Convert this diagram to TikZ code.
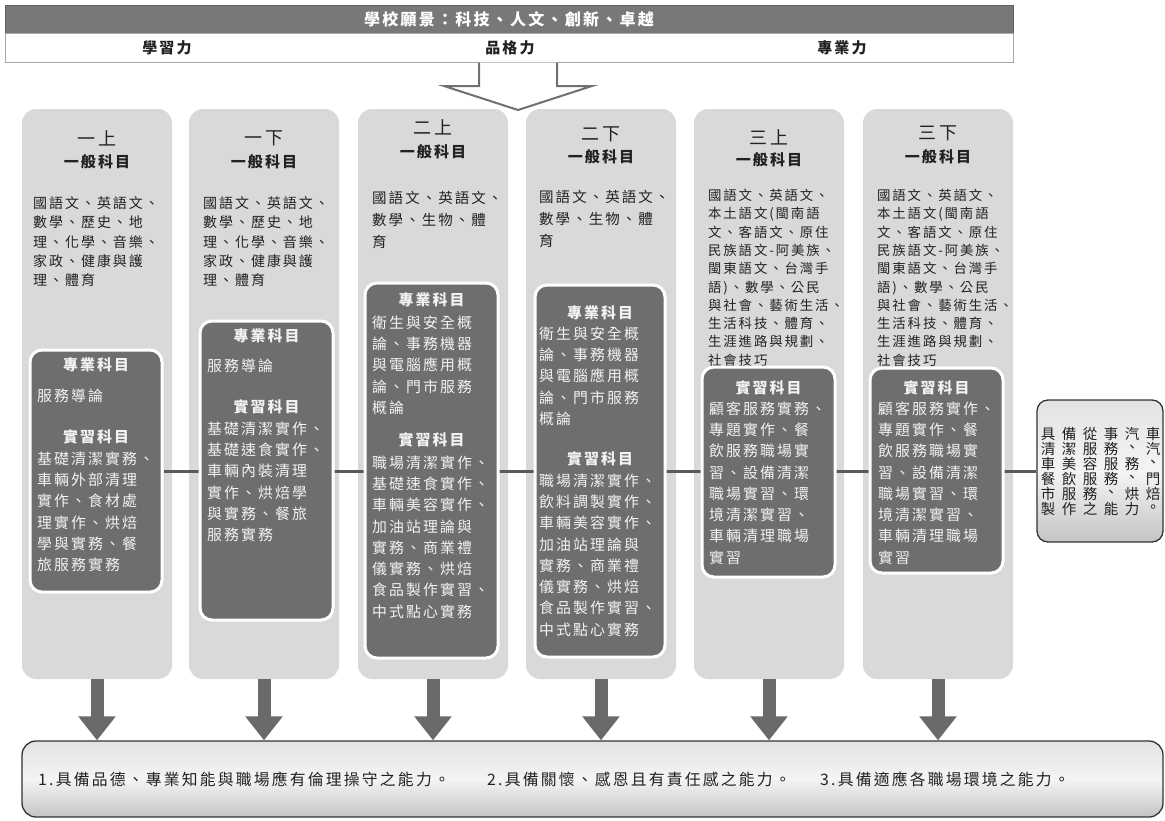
\documentclass[tikz,border=0pt]{standalone}
\usepackage{fontspec}
\newfontfamily\cjk[LetterSpace=14]{Noto Sans CJK TC}
\usetikzlibrary{arrows.meta}
\pgfdeclarelayer{bg}
\pgfdeclarelayer{mid}
\pgfsetlayers{bg,mid,main}
\definecolor{colgray}{HTML}{D9D9D9}
\definecolor{boxgray}{HTML}{6E6E6E}
\definecolor{bargray}{HTML}{787878}
\definecolor{linegray}{HTML}{5A5A5A}
\definecolor{arrgray}{HTML}{6A6A6A}
\definecolor{arredge}{HTML}{707070}
\definecolor{txtdark}{HTML}{222222}
\definecolor{txtlight}{HTML}{F2F2F2}
\definecolor{shtop}{HTML}{E2E2E2}
\definecolor{shmid}{HTML}{F4F4F4}
\definecolor{shbot}{HTML}{C4C4C4}
\definecolor{edgedark}{HTML}{333333}
\newcommand\fsz[2]{\fontsize{#1pt}{#2pt}\selectfont}
\begin{document}
\begin{tikzpicture}[x=1pt,y=-1pt,
  colbox/.style={fill=colgray, rounded corners=14pt, minimum width=150pt, minimum height=570pt, inner sep=0pt},
  darkbox/.style={fill=boxgray, draw=white, line width=3pt, rounded corners=12pt, inner sep=0pt},
  semhead/.style={font=\cjk\fsz{18}{20}, text=txtdark, inner sep=0pt},
  gentitle/.style={font=\cjk\bfseries\fsz{15}{17}, text=txtdark, inner sep=0pt},
  gentext/.style={anchor=north west, align=left, inner sep=0pt, text=txtdark},
  dhead/.style={font=\cjk\bfseries\fsz{14.9}{17}, text=txtlight, inner sep=0pt},
  dtext/.style={anchor=north west, align=left, inner sep=0pt, text=txtlight, font=\cjk\fsz{14.9}{21.3}},
  conn/.style={draw=linegray, line width=3pt},
  downarr/.style={draw=arrgray, line width=13pt, -{Triangle[width=36pt,length=24pt]}},
  rtext/.style={font=\cjk\fsz{14.5}{15}, text=txtdark, inner sep=0pt},
  bottext/.style={anchor=west, font=\cjk\fsz{15.8}{17}, text=txtdark, inner sep=0pt},
  shadedbox/.style={draw=edgedark, line width=1.3pt, top color=shtop, bottom color=shbot, middle color=shmid, inner sep=0pt}
]
\useasboundingbox (0,0) rectangle (1165,820);

% header
\node[fill=bargray, draw=bargray!80!black, line width=0.6pt, minimum width=1008pt, minimum height=28pt, inner sep=0pt,
      text=white, font=\cjk\bfseries\fsz{16}{18}] (bar) at (509,19) {學校願景：科技、人文、創新、卓越};
\node[fill=white, draw=gray!70, line width=1pt, minimum width=1008pt, minimum height=29pt, inner sep=0pt] (row) at (509,47.5) {};
\node[font=\cjk\bfseries\fsz{15}{17}, text=txtdark, inner sep=0pt] (r1) at (167,48) {學習力};
\node[font=\cjk\bfseries\fsz{15}{17}, text=txtdark, inner sep=0pt] (r2) at (510,48) {品格力};
\node[font=\cjk\bfseries\fsz{15}{17}, text=txtdark, inner sep=0pt] (r3) at (842,48) {專業力};

% hollow arrow
\draw[fill=white, draw=arredge, line width=2pt, line join=miter]
  (479,62.5) -- (479,86) -- (444,86) -- (518,110) -- (592,86) -- (557,86) -- (557,62.5);

% columns
\begin{pgfonlayer}{bg}
\node[colbox] (c1) at (97,394) {};
\node[colbox] (c2) at (264,394) {};
\node[colbox] (c3) at (433,394) {};
\node[colbox] (c4) at (601,394) {};
\node[colbox] (c5) at (769,394) {};
\node[colbox] (c6) at (938,394) {};
\end{pgfonlayer}

% semester headings
\node[semhead] (s1) at (97,138) {一上};
\node[gentitle] (s1b) at (97,162) {一般科目};
\node[semhead] (s2) at (264,138) {一下};
\node[gentitle] (s2b) at (264,162) {一般科目};
\node[semhead] (s3) at (433,127) {二上};
\node[gentitle] (s3b) at (433,152) {一般科目};
\node[semhead] (s4) at (601,134) {二下};
\node[gentitle] (s4b) at (601,157) {一般科目};
\node[semhead] (s5) at (769,137) {三上};
\node[gentitle] (s5b) at (769,160) {一般科目};
\node[semhead] (s6) at (938,133) {三下};
\node[gentitle] (s6b) at (938,157) {一般科目};

% general subjects
\node[gentext, font=\cjk\fsz{14}{19.2}] (g1) at (33,196.7)
  {國語文、英語文、\\數學、歷史、地\\理、化學、音樂、\\家政、健康與護\\理、體育};
\node[gentext, font=\cjk\fsz{14}{19.2}] (g2) at (203,196.7)
  {國語文、英語文、\\數學、歷史、地\\理、化學、音樂、\\家政、健康與護\\理、體育};
\node[gentext, font=\cjk\fsz{14.5}{21.6}] (g3) at (372,191.5)
  {國語文、英語文、\\數學、生物、體\\育};
\node[gentext, font=\cjk\fsz{14.5}{21.6}] (g4) at (539,190.5)
  {國語文、英語文、\\數學、生物、體\\育};
\node[gentext, font=\cjk\fsz{13.4}{18.3}] (g5) at (708,189)
  {國語文、英語文、\\本土語文(閩南語\\文、客語文、原住\\民族語文-阿美族、\\閩東語文、台灣手\\語)、數學、公民\\與社會、藝術生活、\\生活科技、體育、\\生涯進路與規劃、\\社會技巧};
\node[gentext, font=\cjk\fsz{13.4}{18.3}] (g6) at (877,189)
  {國語文、英語文、\\本土語文(閩南語\\文、客語文、原住\\民族語文-阿美族、\\閩東語文、台灣手\\語)、數學、公民\\與社會、藝術生活、\\生活科技、體育、\\生涯進路與規劃、\\社會技巧};

% dark boxes
\node[darkbox, minimum width=132pt, minimum height=242pt] (d1) at (96,471) {};
\node[darkbox, minimum width=133pt, minimum height=299pt] (d2) at (266.5,470.5) {};
\node[darkbox, minimum width=133pt, minimum height=375pt] (d3) at (431.5,470.5) {};
\node[darkbox, minimum width=130pt, minimum height=372pt] (d4) at (600,471) {};
\node[darkbox, minimum width=133pt, minimum height=210pt] (d5) at (768.5,472) {};
\node[darkbox, minimum width=133pt, minimum height=205pt] (d6) at (936.5,470.5) {};

% texts in dark boxes
\node[dhead] (p1) at (96,365) {專業科目};
\node[dtext] (p1t) at (37,388.3) {服務導論};
\node[dhead] (q1) at (96,437) {實習科目};
\node[dtext] (q1t) at (37,451.3) {基礎清潔實務、\\車輛外部清理\\實作、食材處\\理實作、烘焙\\學與實務、餐\\旅服務實務};

\node[dhead] (p2) at (266.5,336) {專業科目};
\node[dtext] (p2t) at (207,358.3) {服務導論};
\node[dhead] (q2) at (266.5,407) {實習科目};
\node[dtext] (q2t) at (207,421.3) {基礎清潔實作、\\基礎速食實作、\\車輛內裝清理\\實作、烘焙學\\與實務、餐旅\\服務實務};

\node[dhead] (p3) at (431.5,300) {專業科目};
\node[dtext] (p3t) at (372,315.3) {衛生與安全概\\論、事務機器\\與電腦應用概\\論、門市服務\\概論};
\node[dhead] (q3) at (431.5,440) {實習科目};
\node[dtext] (q3t) at (372,455.3) {職場清潔實作、\\基礎速食實作、\\車輛美容實作、\\加油站理論與\\實務、商業禮\\儀實務、烘焙\\食品製作實習、\\中式點心實務};

\node[dhead] (p4) at (600,313) {專業科目};
\node[dtext] (p4t) at (539,326.3) {衛生與安全概\\論、事務機器\\與電腦應用概\\論、門市服務\\概論};
\node[dhead] (q4) at (600,459) {實習科目};
\node[dtext] (q4t) at (539,473.3) {職場清潔實作、\\飲料調製實作、\\車輛美容實作、\\加油站理論與\\實務、商業禮\\儀實務、烘焙\\食品製作實習、\\中式點心實務};

\node[dhead] (q5) at (768.5,388) {實習科目};
\node[dtext] (q5t) at (709,401.3) {顧客服務實務、\\專題實作、餐\\飲服務職場實\\習、設備清潔\\職場實習、環\\境清潔實習、\\車輛清理職場\\實習};

\node[dhead] (q6) at (936.5,388) {實習科目};
\node[dtext] (q6t) at (878,401.3) {顧客服務實作、\\專題實作、餐\\飲服務職場實\\習、設備清潔\\職場實習、環\\境清潔實習、\\車輛清理職場\\實習};

% right box
\node[shadedbox, rounded corners=11pt, minimum width=126pt, minimum height=142pt] (rb) at (1100,471) {};
\foreach \row [count=\r] in {{具,備,從,事,汽,車},{清,潔,服,務,、,汽},{車,美,容,服,務,、},{餐,飲,服,務,、,門},{市,服,務,、,烘,焙},{製,作,之,能,力,。}}{
  \foreach \ch [count=\c] in \row {
    \node[rtext] (rt\r\c) at ({1048+21*(\c-1)},{434+15*(\r-1)}) {\ch};
  }
}

% connector line (behind dark boxes)
\begin{pgfonlayer}{mid}
\draw[conn] (d1.east) -- (rb.west);
\end{pgfonlayer}

% bottom box
\node[shadedbox, rounded corners=14pt, minimum width=1141pt, minimum height=76pt] (bot) at (592.5,779) {};
\node[bottext] (t1) at (38,779) {1.具備品德、專業知能與職場應有倫理操守之能力。};
\node[bottext] (t2) at (487,779) {2.具備關懷、感恩且有責任感之能力。};
\node[bottext] (t3) at (820,779) {3.具備適應各職場環境之能力。};

% down arrows
\foreach \k in {1,...,6}{
  \draw[downarr] (c\k.south) -- (c\k.south |- bot.north);
}
\end{tikzpicture}
\end{document}
